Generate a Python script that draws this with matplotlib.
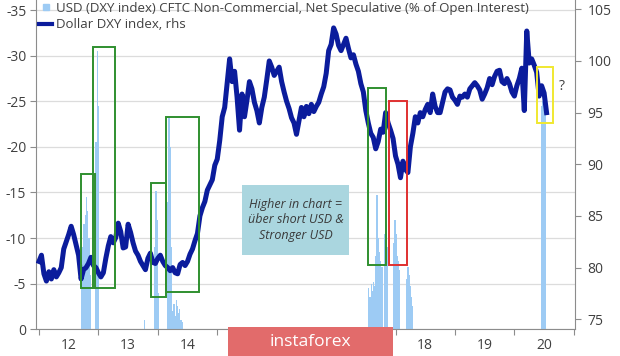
import matplotlib.pyplot as plt
import numpy as np
from matplotlib.patches import Rectangle
from matplotlib.lines import Line2D

plt.rcParams['font.family'] = ['Open Sans', 'DejaVu Sans']

# Dollar DXY index (rhs), two readings a month from Jan 2012
dxy_2012 = [80.6, 81.2, 79.4, 78.7, 79.6, 78.9, 79.8, 79.1, 79.5, 80.0, 81.8, 82.5,
            83.2, 84.0, 83.2, 82.2, 81.2, 78.9, 79.8, 80.0, 80.4, 81.0, 80.2, 80.0]
dxy_2013 = [79.5, 79.1, 79.5, 80.9, 82.1, 83.0, 82.4, 82.9, 84.3, 83.5, 81.9, 82.0,
            84.2, 83.4, 82.4, 81.6, 81.2, 80.6, 80.2, 79.8, 80.9, 81.4, 80.5, 80.4]
dxy_2014 = [80.9, 81.2, 80.6, 80.2, 80.0, 79.7, 80.0, 79.5, 79.4, 80.3, 80.5, 80.2,
            80.6, 81.3, 81.8, 82.6, 83.3, 85.0, 85.8, 86.4, 87.5, 88.0, 88.5, 89.9]
dxy_2015 = [90.5, 92.3, 94.6, 95.5, 97.8, 100.2, 98.0, 99.0, 96.5, 93.3, 96.8, 94.6,
            96.2, 98.0, 97.3, 96.0, 95.2, 94.0, 95.5, 96.5, 98.2, 100.0, 99.4, 98.6]
dxy_2016 = [99.0, 99.4, 98.0, 97.0, 96.1, 95.4, 94.5, 94.0, 92.9, 94.2, 95.5, 94.6,
            95.6, 94.9, 95.8, 95.1, 95.6, 96.0, 96.8, 97.5, 98.8, 101.0, 101.6, 103.2]
dxy_2017 = [102.6, 101.5, 101.0, 101.6, 102.2, 101.2, 100.3, 100.6, 99.7, 99.0, 97.8, 97.0,
            95.2, 94.0, 93.0, 92.6, 91.5, 92.2, 93.4, 93.1, 95.0, 94.0, 93.3, 92.5]
dxy_2018 = [90.8, 90.0, 88.7, 90.3, 89.5, 89.2, 91.7, 93.0, 94.6, 94.0, 95.0, 94.6,
            95.3, 95.8, 95.0, 96.8, 95.6, 95.0, 95.0, 96.0, 97.0, 97.3, 97.2, 96.5]
dxy_2019 = [96.2, 95.8, 96.6, 96.5, 96.8, 96.5, 97.3, 97.6, 97.9, 97.6, 97.2, 96.3,
            96.8, 97.4, 98.3, 97.7, 98.5, 99.0, 99.1, 98.0, 97.8, 98.3, 97.8, 97.0]
dxy_2020 = [96.6, 97.6, 98.3, 99.3, 95.2, 102.9, 99.8, 100.2, 99.6, 98.9, 96.6, 97.6,
            96.9, 95.0]

dxy = dxy_2012 + dxy_2013 + dxy_2014 + dxy_2015 + dxy_2016 + dxy_2017 + dxy_2018 + dxy_2019 + dxy_2020
dxy_dates = 2012 + np.arange(len(dxy)) / 24

# CFTC non-commercial net speculative (% of OI), weeks with a net short
cftc_dates = [2012.72, 2012.74, 2012.76, 2012.78, 2012.80, 2012.82, 2012.84, 2012.86,
              2012.96, 2012.98, 2013.00,
              2013.77,
              2013.95, 2013.97, 2013.99, 2014.01,
              2014.17, 2014.19, 2014.21, 2014.23, 2014.25, 2014.27, 2014.29, 2014.31,
              2014.33, 2014.35, 2014.37, 2014.39, 2014.41,
              2017.55, 2017.57, 2017.59, 2017.61, 2017.63, 2017.65, 2017.67, 2017.69,
              2017.71, 2017.73, 2017.75, 2017.77,
              2017.81, 2017.83, 2017.85, 2017.87,
              2017.97, 2017.99, 2018.01, 2018.03, 2018.05, 2018.07,
              2018.19, 2018.21, 2018.23, 2018.25, 2018.27, 2018.29,
              2020.46, 2020.48, 2020.50, 2020.52]
cftc_values = [-5.0, -9.0, -11.5, -12.5, -14.5, -13.0, -10.0, -6.0,
               -20.5, -30.5, -24.5,
               -1.0,
               -9.0, -15.2, -12.0, -4.0,
               -14.0, -23.2, -20.0, -9.0, -2.0, -2.8, -1.5, -3.2,
               -2.5, -1.8, -2.2, -1.0, -0.8,
               -4.5, -3.5, -5.0, -4.2, -5.2, -4.8, -8.0, -14.7,
               -10.0, -8.5, -7.5, -6.8,
               -10.5, -12.8, -11.5, -9.0,
               -9.5, -12.0, -10.5, -8.0, -7.5, -6.5,
               -5.5, -6.8, -6.0, -4.8, -3.5, -2.5,
               -24.5, -25.0, -24.5, -24.0]

left_ticks = [0, -5, -10, -15, -20, -25, -30, -35]
right_ticks = [75, 80, 85, 90, 95, 100, 105]
# 15, 16 and 17 sit under the watermark in the source
year_labels = ['12', '13', '14', '', '', '', '18', '19', '20']

# highlight boxes: (x0, x1, y0, y1) in years / lhs units
green_boxes = [(2012.70, 2012.94, -4.5, -17.0),
               (2012.914, 2013.284, -4.5, -31.0),
               (2013.884, 2014.132, -3.5, -16.0),
               (2014.132, 2014.692, -4.05, -23.3),
               (2017.54, 2017.833, -7.1, -26.5)]
red_boxes = [(2017.893, 2018.186, -7.0, -25.05)]
yellow_boxes = [(2020.373, 2020.652, -22.6, -28.8)]

grey = '#404040'
navy = '#0b1c9c'
bar_blue = '#9dcbf4'

fig = plt.figure(figsize=(6.2, 3.56), dpi=100)
ax = fig.add_axes([36 / 620, 26.7 / 356, 539 / 620, 329.3 / 356])

ax.bar(cftc_dates, cftc_values, width=0.022, color=bar_blue, linewidth=0, zorder=2)
ax.set_ylim(0, -36.1)
ax.set_xlim(2011.95, 2021.02)
ax.set_yticks(left_ticks)
ax.set_yticklabels([str(t) for t in left_ticks])
ax.yaxis.grid(True, color='#dcdcdc', linewidth=0.9)
ax.set_axisbelow(True)

ax.set_xticks(range(2012, 2022))
ax.set_xticklabels([])
ax.set_xticks([2012.5 + i for i in range(9)], minor=True)
ax.set_xticklabels(year_labels, minor=True)
ax.tick_params(axis='x', which='minor', length=0, pad=6, labelsize=10, labelcolor=grey)
ax.tick_params(axis='x', which='major', length=4, color='#8c8c8c')
ax.tick_params(axis='y', length=4, color='#8c8c8c', labelsize=10, labelcolor=grey, pad=3)

for side in ['top', 'right']:
    ax.spines[side].set_visible(False)
for side in ['left', 'bottom']:
    ax.spines[side].set_color('#8c8c8c')

ax2 = ax.twinx()
ax2.plot(dxy_dates, dxy, color=navy, linewidth=3.6, solid_joinstyle='round', zorder=2)
ax2.set_ylim(74.03, 105.9)
ax2.set_yticks(right_ticks)
ax2.tick_params(axis='y', length=4, color='#8c8c8c', labelsize=10, labelcolor=grey, pad=5)
for side in ['top', 'left', 'bottom']:
    ax2.spines[side].set_visible(False)
ax2.spines['right'].set_color('#8c8c8c')

for boxes, col in [(green_boxes, '#2f8f2f'), (red_boxes, '#e03030'), (yellow_boxes, '#f0e830')]:
    for x0, x1, y0, y1 in boxes:
        ax2.add_patch(Rectangle((x0, y0), x1 - x0, y1 - y0, transform=ax.transData,
                                fill=False, edgecolor=col, linewidth=1.4, zorder=3))

handles = [Line2D([], [], marker='s', linestyle='none', color=bar_blue, markersize=5),
           Line2D([], [], color=navy, linewidth=3)]
labels = ['USD (DXY index) CFTC Non-Commercial, Net Speculative (% of Open Interest)',
          'Dollar DXY index, rhs']
ax2.legend(handles, labels, loc='upper left', bbox_to_anchor=(39 / 620, 1 - 2 / 356),
           bbox_transform=fig.transFigure, frameon=False, fontsize=9.5, handlelength=1.0,
           handletextpad=0.3, labelspacing=0.25, borderpad=0, borderaxespad=0,
           labelcolor=grey)

fig.text(562 / 620, 1 - 87 / 356, '?', fontsize=10, color=grey, ha='center', va='center')

# note box
fig.add_artist(Rectangle((241.7 / 620, 1 - 255 / 356), 107.6 / 620, 70 / 356,
                         transform=fig.transFigure, facecolor='#aad6df', edgecolor='none', zorder=5))
fig.text(295.5 / 620, 1 - 220 / 356, 'Higher in chart =\nüber short USD &\nStronger USD',
         fontsize=9, style='italic', color='#3a3a3a', ha='center', va='center',
         linespacing=1.25, zorder=6)

# watermark
fig.add_artist(Rectangle((228 / 620, 0), 165 / 620, 29 / 356, transform=fig.transFigure,
                         facecolor='#e26b6b', edgecolor='none', zorder=7))
fig.text(310 / 620, 14 / 356, 'instaforex', fontsize=12.5, color='white',
         ha='center', va='center', zorder=8)

plt.savefig('out.png', dpi=100)
